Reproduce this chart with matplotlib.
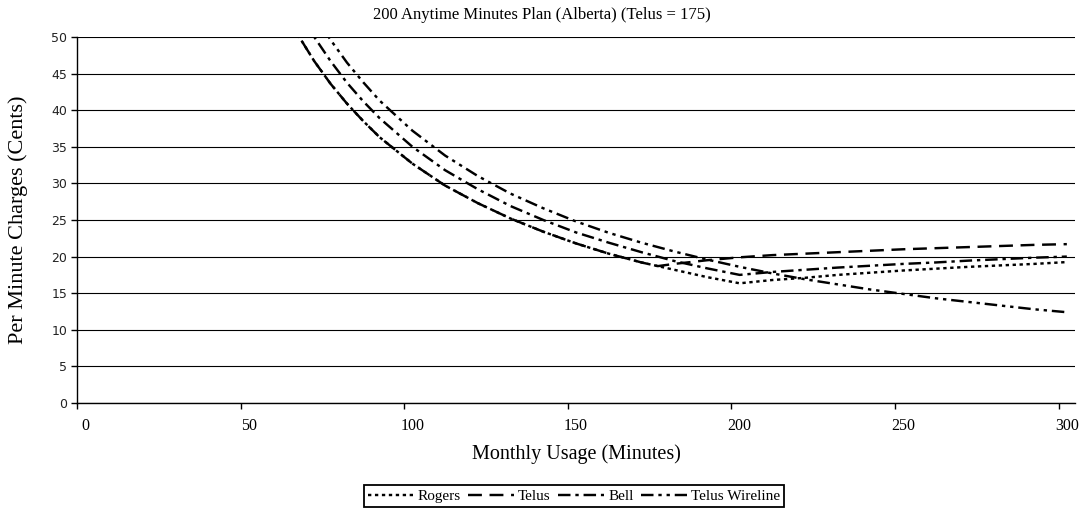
import matplotlib
matplotlib.use('Agg')
import matplotlib.pyplot as plt

# ---- data ----
minutes = [60, 65, 70, 75, 80, 85, 90, 100, 110, 120, 130, 140, 150, 160, 170, 175,
           180, 190, 200, 210, 220, 230, 240, 250, 260, 270, 280, 290, 300]

rogers = [54.5, 50.3, 46.7, 43.6, 40.9, 38.5, 36.3, 32.7, 29.7, 27.3, 25.2, 23.4, 21.8, 20.4, 19.2, 18.7,
          18.2, 17.2, 16.35, 16.8, 17.1, 17.5, 17.8, 18.1, 18.35, 18.6, 18.8, 19.0, 19.25]
telus = [54.5, 50.3, 46.7, 43.6, 40.9, 38.5, 36.3, 32.7, 29.7, 27.3, 25.2, 23.4, 21.8, 20.4, 19.2, 18.7,
         19.0, 19.5, 19.9, 20.2, 20.4, 20.6, 20.8, 21.0, 21.15, 21.3, 21.45, 21.6, 21.7]
bell = [58.3, 53.8, 50.0, 46.7, 43.75, 41.2, 38.9, 35.0, 31.8, 29.2, 26.9, 25.0, 23.3, 21.9, 20.6, 20.0,
        19.4, 18.4, 17.5, 17.9, 18.2, 18.5, 18.75, 19.0, 19.2, 19.45, 19.65, 19.85, 20.0]
wireline = [62.0, 57.2, 53.1, 49.6, 46.5, 43.8, 41.3, 37.2, 33.8, 31.0, 28.6, 26.6, 24.8, 23.25, 21.9, 21.3,
            20.7, 19.6, 18.6, 17.7, 16.9, 16.2, 15.5, 14.9, 14.3, 13.8, 13.3, 12.8, 12.4]

series_names = ["Rogers", "Telus", "Bell", "Telus Wireline"]
x_tick_labels = ["0", "50", "100", "150", "200", "250", "300"]
y_ticks = [0, 5, 10, 15, 20, 25, 30, 35, 40, 45, 50]

title = "200 Anytime Minutes Plan (Alberta) (Telus = 175)"
xlabel = "Monthly Usage (Minutes)"
ylabel = "Per Minute Charges (Cents)"

# ---- figure ----
plt.rcParams['lines.scale_dashes'] = False
serif = ['Liberation Serif', 'DejaVu Serif']

fig = plt.figure(figsize=(10.85, 5.14), dpi=100)
ax = fig.add_axes([0.071, 0.216, 0.9198, 0.712])

styles = [
    dict(linestyle=(0, (2.4, 2.6))),
    dict(linestyle=(0, (10.0, 5.5))),
    dict(linestyle=(0, (9.0, 3.5, 2.4, 3.5))),
    dict(linestyle=(0, (9.0, 3.5, 2.4, 3.5, 2.4, 3.5))),
]
data = [rogers, telus, bell, wireline]
handles = []
for name, vals, st in zip(series_names, data, styles):
    h, = ax.plot(minutes, vals, color='black', lw=1.75, label=name,
                 dash_capstyle='butt', **st)
    handles.append(h)

ax.set_xlim(-2.5, 302.5)
ax.set_ylim(0, 50)

# horizontal grid
ax.set_yticks(y_ticks)
ax.yaxis.grid(True, color='black', lw=0.8)
ax.set_axisbelow(True)

for s in ['top', 'right']:
    ax.spines[s].set_visible(False)
for s in ['left', 'bottom']:
    ax.spines[s].set_color('black')
    ax.spines[s].set_linewidth(1.0)

# x: ticks at category boundaries, labels at category centres
label_pos = [int(v) for v in x_tick_labels]
ax.set_xticks([p - 2.5 for p in label_pos])
ax.set_xticklabels([])
ax.set_xticks(label_pos, minor=True)
ax.set_xticklabels(x_tick_labels, minor=True, fontfamily=serif, fontsize=11.5)
ax.tick_params(axis='x', which='major', direction='out', length=4, width=1, color='black')
ax.tick_params(axis='x', which='minor', length=0, pad=11)

ax.tick_params(axis='y', direction='out', length=4, width=1, color='black', pad=3)
for t in ax.get_yticklabels():
    t.set_fontfamily('DejaVu Sans')
    t.set_fontsize(9)
    t.set_color('#222222')

fig.text(0.499, 1 - 15 / 514, title, ha='center', va='center', fontfamily=serif, fontsize=12)
fig.text(0.531, 1 - 454 / 514, xlabel, ha='center', va='center', fontfamily=serif, fontsize=14.5)
fig.text(0.0166, 1 - 220 / 514, ylabel, ha='center', va='center', rotation=90,
         fontfamily=serif, fontsize=16)

leg = fig.legend(handles=handles, loc='center', bbox_to_anchor=(0.529, 1 - 496 / 514), ncol=4,
                 frameon=True, fancybox=False, edgecolor='black', framealpha=1,
                 borderpad=0.25, handlelength=3.0, handletextpad=0.25, columnspacing=0.5,
                 prop={'family': serif, 'size': 11}, borderaxespad=0)
leg.get_frame().set_linewidth(1.3)

fig.savefig('out.png', dpi=100)
